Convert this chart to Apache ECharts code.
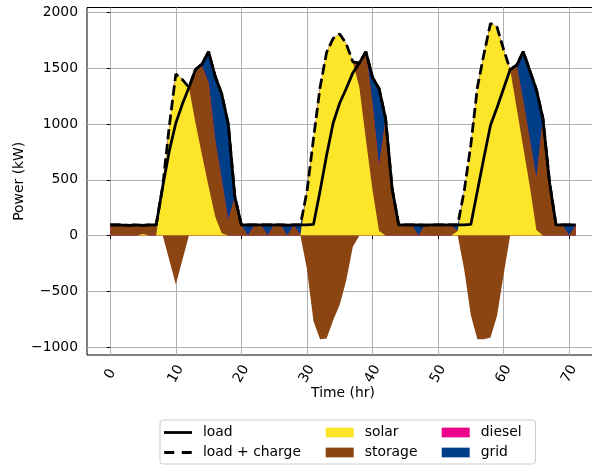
<!DOCTYPE html>
<html>
<head>
<meta charset="utf-8">
<script src="https://cdn.jsdelivr.net/npm/echarts@6/dist/echarts.min.js"></script>
<style>
html, body { margin: 0; padding: 0; background: #ffffff; }
#chart { width: 592px; height: 466px; }
</style>
</head>
<body>
<div id="chart"></div>
<script>
// Hourly dispatch over three days (kW)
const hours = [
  0, 1, 2, 3, 4, 5, 6, 7, 8, 9, 10, 11, 12, 13, 14, 15, 16, 17, 18, 19, 20, 21, 22, 23,
  24, 25, 26, 27, 28, 29, 30, 31, 32, 33, 34, 35, 36, 37, 38, 39, 40, 41, 42, 43, 44, 45, 46, 47,
  48, 49, 50, 51, 52, 53, 54, 55, 56, 57, 58, 59, 60, 61, 62, 63, 64, 65, 66, 67, 68, 69, 70, 71
];
const load = [
  95, 96, 94, 92, 96, 92, 95, 95, 440, 760, 1010, 1180, 1330, 1490, 1540, 1650, 1430, 1270, 1000, 350, 95, 95, 95, 95,
  95, 96, 95, 94, 95, 95, 95, 100, 400, 720, 1010, 1190, 1320, 1460, 1550, 1650, 1420, 1320, 1050, 420, 95, 95, 96, 95,
  94, 95, 95, 96, 95, 95, 95, 100, 400, 700, 990, 1150, 1320, 1490, 1530, 1650, 1480, 1310, 1050, 480, 95, 95, 95, 95
];
const solar = [
  0, 0, 0, 0, 0, 15, 0, 0, 440, 980, 1450, 1400, 1330, 1010, 720, 440, 170, 20, 0, 0, 0, 0, 0, 0,
  0, 0, 0, 0, 0, 0, 395, 870, 1330, 1645, 1770, 1810, 1720, 1560, 1330, 860, 410, 40, 0, 0, 0, 0, 0, 0,
  0, 0, 0, 0, 0, 40, 405, 815, 1330, 1630, 1905, 1870, 1670, 1490, 1140, 790, 440, 50, 0, 0, 0, 0, 0, 0
];
// positive = discharge, negative = charge
const storage = [
  95, 96, 94, 92, 96, 77, 95, 95, 0, -220, -440, -220, 0, 480, 800, 934, 694, 484, 140, 350, 95, 0, 95, 95,
  0, 96, 95, 0, 95, 0, -300, -770, -930, -925, -760, -620, -400, -100, 220, 790, 780, 584, 1050, 420, 95, 95, 96, 0,
  94, 95, 95, 96, 95, 0, -310, -715, -930, -930, -915, -720, -350, 0, 390, 419, 424, 469, 1050, 480, 95, 95, 0, 95
];
const diesel = [
  0, 0, 0, 0, 0, 0, 0, 0, 0, 0, 0, 0, 0, 0, 0, 0, 0, 0, 0, 0, 0, 0, 0, 0,
  0, 0, 0, 0, 0, 0, 0, 0, 0, 0, 0, 0, 0, 0, 0, 0, 0, 0, 0, 0, 0, 0, 0, 0,
  0, 0, 0, 0, 0, 0, 0, 0, 0, 0, 0, 0, 0, 0, 0, 0, 0, 0, 0, 0, 0, 0, 0, 0
];
const grid = [
  0, 0, 0, 0, 0, 0, 0, 0, 0, 0, 0, 0, 0, 0, 20, 276, 566, 766, 860, 0, 0, 95, 0, 0,
  95, 0, 0, 94, 0, 95, 0, 0, 0, 0, 0, 0, 0, 0, 0, 0, 230, 696, 0, 0, 0, 0, 0, 95,
  0, 0, 0, 0, 0, 55, 0, 0, 0, 0, 0, 0, 0, 0, 0, 441, 616, 791, 0, 0, 0, 0, 95, 0
];
const xTicks = [0, 10, 20, 30, 40, 50, 60, 70];
const yTicks = [-1000, -500, 0, 500, 1000, 1500, 2000];

const COLORS = {
  solar: '#fde52a',
  storage: '#8b4513',
  diesel: '#ec008c',
  grid: '#003f87'
};
const FONT = 'DejaVu Sans';
const FS = 13.9;

const pts = arr => hours.map((h, i) => [h, arr[i]]);
const discharge = storage.map(v => Math.max(v, 0));
const charge = storage.map(v => Math.min(v, 0));
const loadPlusCharge = load.map((v, i) => v - charge[i]);

// Cumulative tops of the supply stack: solar, storage, diesel, grid
const solarTop = solar.slice();
const storageTop = solarTop.map((v, i) => v + discharge[i]);
const dieselTop = storageTop.map((v, i) => v + diesel[i]);
const gridTop = dieselTop.map((v, i) => v + grid[i]);

// Each layer is filled down to zero; upper layers are drawn first so the
// lower ones paint over them and the result reads as a stack.
function layer(name, tops, color) {
  return {
    name: name,
    type: 'line',
    data: pts(tops),
    color: color,
    itemStyle: { color: color },
    symbol: 'none',
    showSymbol: false,
    lineStyle: { width: 0 },
    areaStyle: { color: color, opacity: 1 },
    emphasis: { disabled: true },
    z: 2
  };
}

const minus = v => (v < 0 ? '\u2212' + Math.abs(v) : String(v));

const legendText = { fontFamily: FONT, fontSize: FS, color: '#000', padding: [0, 0, 0, 6] };

const chart = echarts.init(document.getElementById('chart'), null, { renderer: 'canvas' });
chart.setOption({
  animation: false,
  backgroundColor: '#ffffff',
  textStyle: { fontFamily: FONT },
  grid: {
    left: 87, top: 7.5, right: -7, bottom: 111,
    show: true, borderColor: '#000000', borderWidth: 1,
    containLabel: false, outerBoundsMode: 'none'
  },
  xAxis: {
    type: 'value',
    min: -3.55, max: 74.55,
    name: 'Time (hr)',
    nameLocation: 'middle',
    nameGap: 31,
    nameMoveOverlap: false,
    nameTextStyle: { fontFamily: FONT, fontSize: FS, color: '#000' },
    axisLine: { show: false },
    axisTick: { show: true, length: 3.5, customValues: xTicks, lineStyle: { color: '#000', width: 1 } },
    axisLabel: {
      customValues: xTicks, rotate: 60, align: 'center', verticalAlign: 'middle', margin: 19,
      fontFamily: FONT, fontSize: FS, color: '#000'
    },
    splitLine: { show: true, lineStyle: { color: '#b0b0b0', width: 1 } }
  },
  yAxis: {
    type: 'value',
    min: -1072, max: 2047,
    name: 'Power (kW)',
    nameLocation: 'middle',
    nameGap: 61,
    nameMoveOverlap: false,
    nameTextStyle: { fontFamily: FONT, fontSize: FS, color: '#000' },
    axisLine: { show: false },
    axisTick: { show: true, length: 3.5, customValues: yTicks, lineStyle: { color: '#000', width: 1 } },
    axisLabel: {
      customValues: yTicks, margin: 9, formatter: minus,
      fontFamily: FONT, fontSize: FS, color: '#000'
    },
    splitLine: { show: true, lineStyle: { color: '#b0b0b0', width: 1 } }
  },
  legend: [
    {
      left: 164, top: 425.5, height: 42, orient: 'vertical', itemGap: 6, itemWidth: 28, itemHeight: 2.8,
      padding: 0, selectedMode: false, textStyle: legendText,
      data: [
        { name: 'load', icon: 'path://M0,0H28V2.8H0Z' },
        { name: 'load + charge', icon: 'path://M0,0H10V2.8H0Z M17.5,0H27.5V2.8H17.5Z' }
      ]
    },
    {
      left: 325.7, top: 425.5, height: 42, orient: 'vertical', itemGap: 6, itemWidth: 28, itemHeight: 9.7,
      padding: 0, selectedMode: false, icon: 'rect', textStyle: legendText,
      data: ['solar', 'storage']
    },
    {
      left: 441.7, top: 425.5, height: 42, orient: 'vertical', itemGap: 6, itemWidth: 28, itemHeight: 9.7,
      padding: 0, selectedMode: false, icon: 'rect', textStyle: legendText,
      data: ['diesel', 'grid']
    }
  ],
  graphic: [
    {
      type: 'rect', left: 159.5, top: 419.5, z: -1,
      shape: { width: 375.5, height: 44, r: 3 },
      style: { fill: 'rgba(255,255,255,0.8)', stroke: '#cccccc', lineWidth: 1 }
    }
  ],
  series: [
    layer('grid', gridTop, COLORS.grid),
    layer('diesel', dieselTop, COLORS.diesel),
    layer('storage', storageTop, COLORS.storage),
    layer('solar', solarTop, COLORS.solar),
    layer('storage', charge, COLORS.storage),
    {
      name: 'load + charge',
      type: 'line',
      data: pts(loadPlusCharge),
      color: '#000000',
      itemStyle: { color: '#000000' },
      symbol: 'none',
      showSymbol: false,
      lineStyle: { color: '#000000', width: 2.78, type: [10.3, 4.4] },
      emphasis: { disabled: true },
      z: 4
    },
    {
      name: 'load',
      type: 'line',
      data: pts(load),
      color: '#000000',
      itemStyle: { color: '#000000' },
      symbol: 'none',
      showSymbol: false,
      lineStyle: { color: '#000000', width: 2.78 },
      emphasis: { disabled: true },
      z: 5
    }
  ]
});
</script>
</body>
</html>
